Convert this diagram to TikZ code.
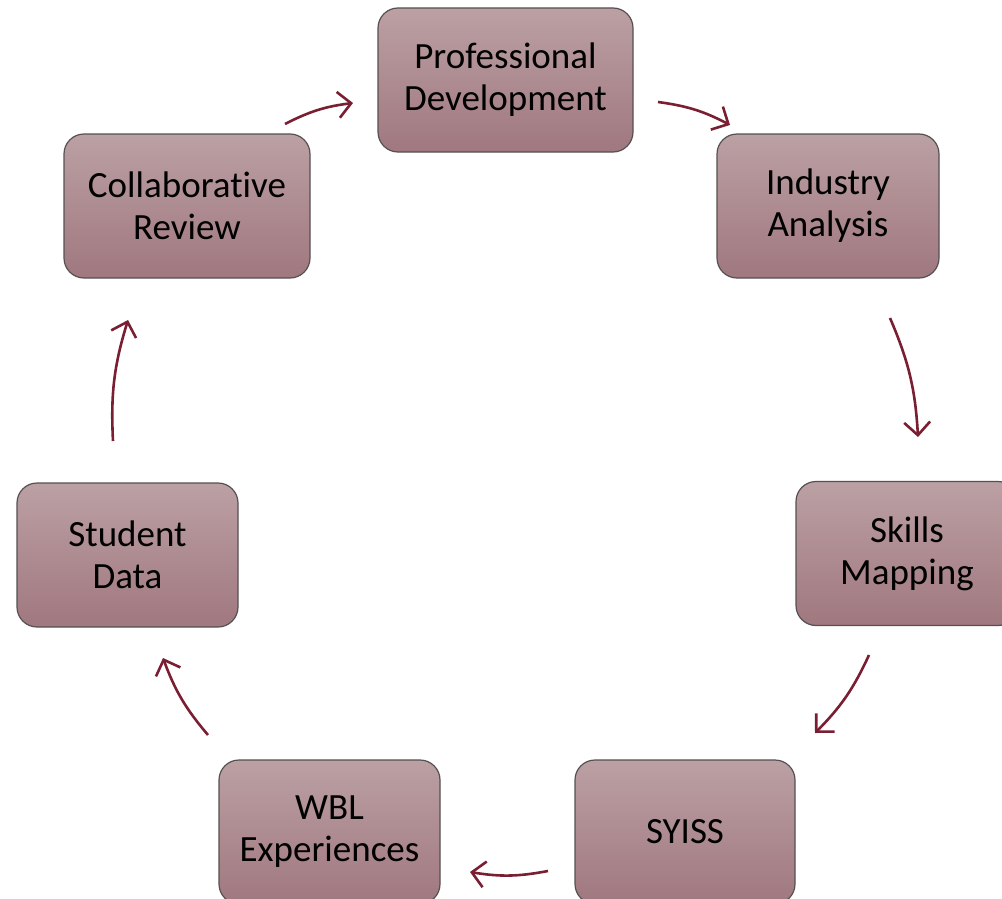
\documentclass[tikz,border=0pt]{standalone}
\usepackage{fontspec}
\setmainfont{Carlito}[Ligatures=NoCommon]
\usetikzlibrary{arrows.meta,shadows}
\definecolor{boxtop}{RGB}{187,160,164}
\definecolor{boxbot}{RGB}{160,120,127}
\definecolor{boxline}{RGB}{85,80,82}
\definecolor{arr}{RGB}{122,30,50}
\tikzset{
  stagebox/.style={draw=boxline, line width=1.2pt, rounded corners=20pt,
    top color=boxtop, bottom color=boxbot, minimum height=144pt,
    align=center, font=\fontsize{37}{42}\selectfont, text=black, inner sep=0pt},
  flow/.style={draw=arr, line width=2.6pt, bend left=10,
    -{Straight Barb[length=13pt,width=26pt,line width=2.6pt]}}
}
\begin{document}
\begin{tikzpicture}[x=1pt,y=-1pt]
\useasboundingbox (0,0) rectangle (1002,899);
\node[stagebox, minimum width=255pt] (pd) at (505.5,80) {Professional\\Development};
\node[stagebox, minimum width=222pt] (ia) at (828,206) {Industry\\Analysis};
\node[stagebox, minimum width=222pt] (sm) at (907,553.5) {Skills\\Mapping};
\node[stagebox, minimum width=220pt] (sy) at (685,832) {SYISS};
\node[stagebox, minimum width=221pt] (wbl) at (329.5,832) {WBL\\Experiences};
\node[stagebox, minimum width=221pt] (sd) at (127.5,555) {Student\\Data};
\node[stagebox, minimum width=246pt] (cr) at (187,206) {Collaborative\\Review};
\coordinate (a1s) at (658,102); \coordinate (a1e) at (730,125);
\coordinate (a2s) at (890,318); \coordinate (a2e) at (918,437);
\coordinate (a3s) at (869,655); \coordinate (a3e) at (815,733);
\coordinate (a4s) at (548,871); \coordinate (a4e) at (470,872);
\coordinate (a5s) at (208,735); \coordinate (a5e) at (163,658);
\coordinate (a6s) at (113,441); \coordinate (a6e) at (128,320);
\coordinate (a7s) at (285,124); \coordinate (a7e) at (353,103);
\draw[flow] (a1s) to (a1e);
\draw[flow] (a2s) to (a2e);
\draw[flow] (a3s) to (a3e);
\draw[flow] (a4s) to (a4e);
\draw[flow] (a5s) to (a5e);
\draw[flow] (a6s) to (a6e);
\draw[flow] (a7s) to (a7e);
\end{tikzpicture}
\end{document}
